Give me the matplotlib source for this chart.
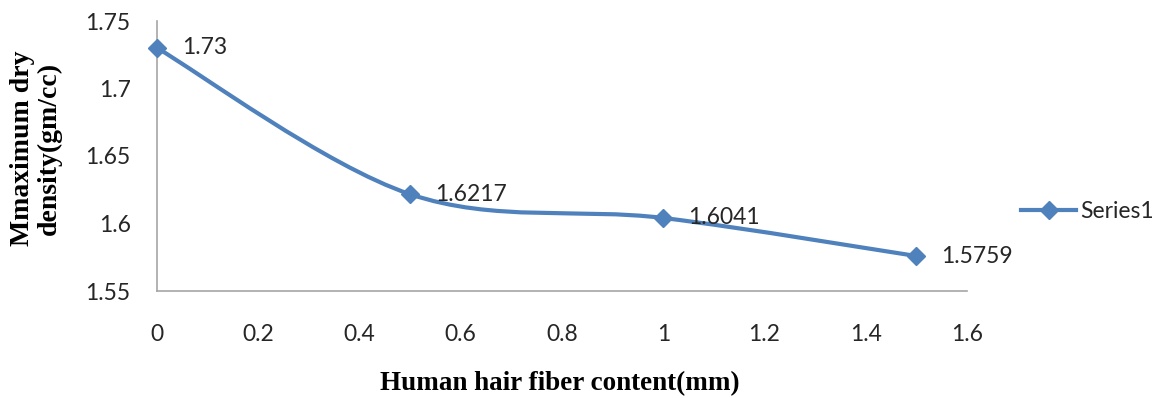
import matplotlib
matplotlib.use("Agg")
import matplotlib.pyplot as plt
from matplotlib.path import Path
from matplotlib.patches import PathPatch
import numpy as np

x_vals = [0, 0.5, 1.0, 1.5]
y_vals = [1.73, 1.6217, 1.6041, 1.5759]
data_labels = ["1.73", "1.6217", "1.6041", "1.5759"]
x_ticks = [0, 0.2, 0.4, 0.6, 0.8, 1, 1.2, 1.4, 1.6]
x_ticklabels = ["0", "0.2", "0.4", "0.6", "0.8", "1", "1.2", "1.4", "1.6"]
y_ticks = [1.55, 1.6, 1.65, 1.7, 1.75]
y_ticklabels = ["1.55", "1.6", "1.65", "1.7", "1.75"]
series_name = "Series1"
x_title = "Human hair fiber content(mm)"
y_title = "Mmaximum dry\ndensity(gm/cc)"

color = "#4F81BD"
tick_font = "Lato"
title_font = "Liberation Serif"
fs = 16.5

fig = plt.figure(figsize=(11.68, 3.98), dpi=100)
ax = fig.add_axes([157/1168, 1 - 291/398, (967-157)/1168, (291-21)/398])
ax.set_xlim(0, 1.6)
ax.set_ylim(1.55, 1.75)

# Smoothed line (Catmull-Rom style Bezier like Excel's smoothing)
pts = np.column_stack([x_vals, y_vals])
verts = [tuple(pts[0])]
codes = [Path.MOVETO]
n = len(pts)
for i in range(n - 1):
    p0 = pts[i - 1] if i > 0 else pts[i]
    p1 = pts[i]
    p2 = pts[i + 1]
    p3 = pts[i + 2] if i + 2 < n else pts[i + 1]
    c1 = p1 + (p2 - p0) / 6.0
    c2 = p2 - (p3 - p1) / 6.0
    verts += [tuple(c1), tuple(c2), tuple(p2)]
    codes += [Path.CURVE4] * 3
patch = PathPatch(Path(verts, codes), facecolor="none", edgecolor=color, lw=3.0,
                  capstyle="round", joinstyle="round", zorder=3, clip_on=False)
ax.add_patch(patch)
ax.plot(x_vals, y_vals, linestyle="none", marker="D", markersize=9.5, color=color,
        zorder=4, clip_on=False)
# legend proxy
proxy, = ax.plot([], [], color=color, lw=3.0, marker="D", markersize=9.5, label=series_name)

for xv, yv, lab in zip(x_vals, y_vals, data_labels):
    ax.annotate(lab, (xv, yv), xytext=(18, 0), textcoords="offset points",
                ha="left", va="center", fontsize=fs, family=tick_font, color="#262626", zorder=5)

ax.set_xticks(x_ticks)
ax.set_xticklabels(x_ticklabels)
ax.set_yticks(y_ticks)
ax.set_yticklabels(y_ticklabels)
ax.tick_params(axis="both", length=0, labelsize=fs, labelcolor="#262626")
ax.tick_params(axis="x", pad=24)
ax.tick_params(axis="y", pad=19)
for lab in ax.get_xticklabels() + ax.get_yticklabels():
    lab.set_family(tick_font)

for s in ["top", "right"]:
    ax.spines[s].set_visible(False)
for s in ["left", "bottom"]:
    ax.spines[s].set_color("#A6A6A6")
    ax.spines[s].set_linewidth(1.2)

fig.text(560/1168, 1 - 384/398, x_title, ha="center", va="center",
         fontsize=19.5, fontweight="bold", family=title_font, color="black")
fig.text(36/1168, 1 - 148/398, y_title, ha="center", va="center", rotation=90,
         fontsize=20, fontweight="bold", family=title_font, color="black", linespacing=1.05)

leg = fig.legend(handles=[proxy], loc="center left", bbox_to_anchor=(1021/1168, 1 - 212/398),
                 frameon=False, prop={"family": tick_font, "size": fs},
                 handlelength=2.4, handletextpad=0.2, borderaxespad=0, borderpad=0)
for t in leg.get_texts():
    t.set_color("#262626")

fig.savefig("out.png", dpi=100)
